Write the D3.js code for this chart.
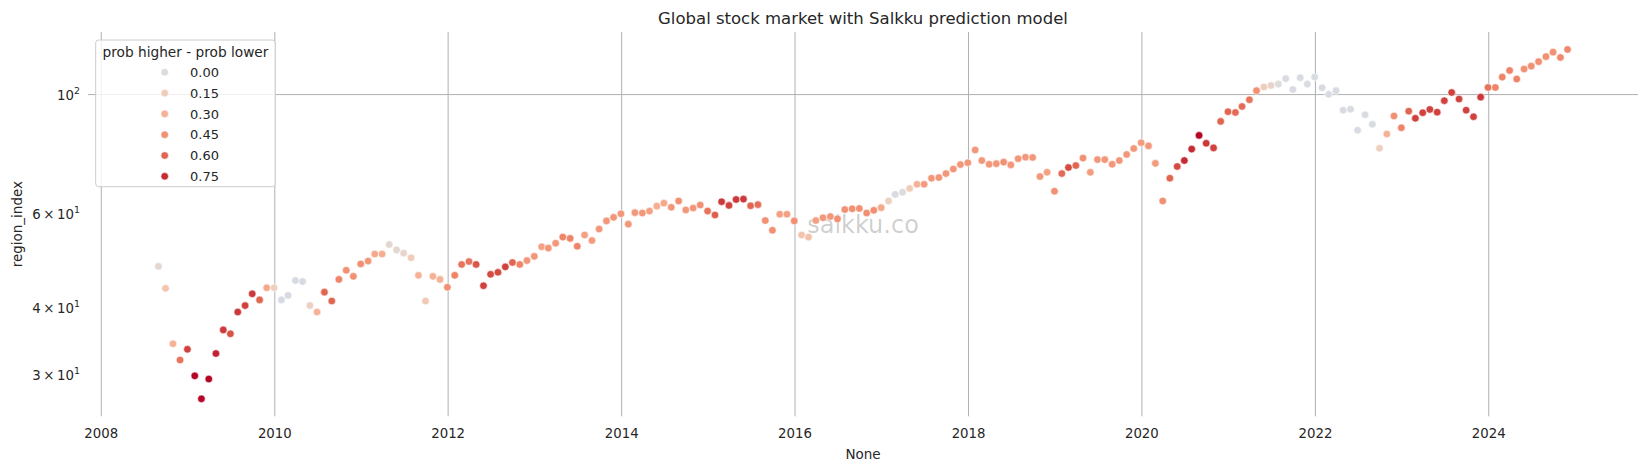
<!DOCTYPE html>
<html><head><meta charset="utf-8">
<script src="https://cdn.jsdelivr.net/npm/d3@7"></script>
<style>
body{margin:0;background:#fff;}
svg{display:block;font-family:"DejaVu Sans",sans-serif;}
</style>
</head><body>
<svg id="chart" width="1648" height="470"></svg>
<script>
// ---------- data ----------
const months = [
 "2008-08","2008-09","2008-10","2008-11","2008-12",
 "2009-01","2009-02","2009-03","2009-04","2009-05","2009-06","2009-07","2009-08","2009-09","2009-10","2009-11","2009-12",
 "2010-01","2010-02","2010-03","2010-04","2010-05","2010-06","2010-07","2010-08","2010-09","2010-10","2010-11","2010-12",
 "2011-01","2011-02","2011-03","2011-04","2011-05","2011-06","2011-07","2011-08","2011-09","2011-10","2011-11","2011-12",
 "2012-01","2012-02","2012-03","2012-04","2012-05","2012-06","2012-07","2012-08","2012-09","2012-10","2012-11","2012-12",
 "2013-01","2013-02","2013-03","2013-04","2013-05","2013-06","2013-07","2013-08","2013-09","2013-10","2013-11","2013-12",
 "2014-01","2014-02","2014-03","2014-04","2014-05","2014-06","2014-07","2014-08","2014-09","2014-10","2014-11","2014-12",
 "2015-01","2015-02","2015-03","2015-04","2015-05","2015-06","2015-07","2015-08","2015-09","2015-10","2015-11","2015-12",
 "2016-01","2016-02","2016-03","2016-04","2016-05","2016-06","2016-07","2016-08","2016-09","2016-10","2016-11","2016-12",
 "2017-01","2017-02","2017-03","2017-04","2017-05","2017-06","2017-07","2017-08","2017-09","2017-10","2017-11","2017-12",
 "2018-01","2018-02","2018-03","2018-04","2018-05","2018-06","2018-07","2018-08","2018-09","2018-10","2018-11","2018-12",
 "2019-01","2019-02","2019-03","2019-04","2019-05","2019-06","2019-07","2019-08","2019-09","2019-10","2019-11","2019-12",
 "2020-01","2020-02","2020-03","2020-04","2020-05","2020-06","2020-07","2020-08","2020-09","2020-10","2020-11","2020-12",
 "2021-01","2021-02","2021-03","2021-04","2021-05","2021-06","2021-07","2021-08","2021-09","2021-10","2021-11","2021-12",
 "2022-01","2022-02","2022-03","2022-04","2022-05","2022-06","2022-07","2022-08","2022-09","2022-10","2022-11","2022-12",
 "2023-01","2023-02","2023-03","2023-04","2023-05","2023-06","2023-07","2023-08","2023-09","2023-10","2023-11","2023-12",
 "2024-01","2024-02","2024-03","2024-04","2024-05","2024-06","2024-07","2024-08","2024-09","2024-10","2024-11"
];
const regionIndex = [
 47.6,43.3,34.1,31.8,33.3,
 29.7,26.9,29.3,32.7,36.2,35.6,39.1,40.2,42.3,41.2,43.4,43.4,
 41.2,42.0,44.8,44.6,40.2,39.1,42.6,41.0,45.0,46.8,45.6,48.1,
 48.7,50.2,50.2,52.3,51.1,50.4,49.4,45.8,41.0,45.6,45.0,43.5,
 45.8,48.0,48.6,48.0,43.8,46.0,46.4,47.5,48.4,48.0,48.8,49.7,
 51.8,51.5,52.6,54.0,53.7,51.9,54.5,53.2,55.9,57.9,58.8,59.7,
 57.1,60.0,59.9,60.4,61.7,62.5,61.4,63.1,60.7,61.2,62.0,60.4,
 59.4,62.9,61.9,63.5,63.6,61.8,62.1,58.0,55.6,59.6,59.6,57.9,
 54.5,54.0,58.0,58.7,59.0,58.4,60.8,61.0,61.1,59.9,60.6,61.3,
 63.1,64.9,65.5,66.6,67.8,67.8,69.6,69.8,71.0,72.4,73.8,74.4,
 78.6,75.1,73.9,74.1,74.6,73.7,75.7,76.2,76.1,70.1,71.4,65.8,
 71.0,72.9,73.5,75.9,71.4,75.4,75.4,73.9,75.1,77.1,79.1,81.1,
 80.0,74.2,63.1,69.6,73.2,75.1,78.9,83.7,80.9,79.3,88.9,92.7,
 92.4,94.8,97.6,101.5,103.1,103.8,104.4,106.9,102.0,107.3,104.4,107.6,
 102.8,99.9,101.5,93.3,93.7,85.6,91.5,87.8,79.2,84.2,91.0,86.5,
 92.9,90.1,92.3,93.6,92.5,97.2,100.7,97.9,93.3,90.7,98.7,102.9,
 102.9,107.6,110.7,106.7,111.4,112.8,115.0,117.5,119.8,117.1,121.2
];
const probDiff = [
 0.05,0.20,0.30,0.55,0.70,
 0.83,0.83,0.83,0.77,0.72,0.66,0.72,0.70,0.72,0.60,0.35,0.12,
 -0.04,-0.04,-0.04,-0.04,0.12,0.30,0.60,0.60,0.50,0.45,0.45,0.45,
 0.42,0.35,0.33,0.05,0.05,0.07,0.15,0.30,0.18,0.30,0.30,0.45,
 0.50,0.55,0.55,0.65,0.70,0.68,0.68,0.70,0.60,0.50,0.42,0.42,
 0.38,0.42,0.42,0.50,0.50,0.50,0.38,0.40,0.42,0.42,0.42,0.42,
 0.42,0.42,0.42,0.38,0.33,0.35,0.42,0.45,0.42,0.42,0.45,0.55,
 0.62,0.72,0.70,0.72,0.72,0.60,0.57,0.45,0.45,0.38,0.38,0.45,
 0.20,0.22,0.38,0.42,0.42,0.45,0.45,0.45,0.45,0.45,0.45,0.35,
 0.12,-0.03,0.00,0.15,0.30,0.40,0.42,0.42,0.42,0.42,0.42,0.42,
 0.42,0.42,0.42,0.42,0.45,0.42,0.42,0.42,0.42,0.42,0.38,0.45,
 0.58,0.68,0.60,0.45,0.40,0.42,0.42,0.42,0.42,0.42,0.42,0.40,
 0.42,0.40,0.45,0.60,0.68,0.75,0.75,0.83,0.72,0.70,0.60,0.60,
 0.58,0.58,0.55,0.45,0.15,0.08,0.00,-0.03,-0.03,-0.03,-0.03,-0.03,
 -0.03,-0.03,-0.03,-0.03,-0.03,-0.03,-0.03,-0.03,0.12,0.30,0.45,0.50,
 0.60,0.70,0.70,0.70,0.70,0.70,0.70,0.70,0.70,0.70,0.72,0.55,
 0.50,0.50,0.50,0.50,0.45,0.45,0.45,0.45,0.45,0.48,0.48
];
const legendValues = [0.00, 0.15, 0.30, 0.45, 0.60, 0.75];
const yTickValues = [30, 40, 60, 100];
const yTickMantissa = ["3", "4", "6", ""];
const yTickExponent = ["1", "1", "1", "2"];
const coolwarm = ['#3b4cc0','#5977e3','#7b9ff9','#9ebeff','#c0d4f5','#dddcdc','#f2cbb7','#f7ac8e','#ee8468','#d65244','#b40426'];
const hueLimit = 0.833;

// ---------- layout ----------
const L = 88, R = 1638, T = 32, B = 416.3;
const ink = "#262626";
const svg = d3.select("#chart");

const parseMonth = d3.timeParse("%Y-%m");
const data = months.map((m, i) => ({
  date: d3.timeDay.offset(d3.timeMonth.offset(parseMonth(m), 1), -1),
  v: regionIndex[i], p: probDiff[i]
}));

const dExt = d3.extent(data, d => d.date);
const span = dExt[1] - dExt[0];
const x = d3.scaleTime()
  .domain([new Date(+dExt[0] - span * 0.05), new Date(+dExt[1] + span * 0.05)])
  .range([L, R]);
const vExt = d3.extent(data, d => d.v);
const lspan = Math.log10(vExt[1]) - Math.log10(vExt[0]);
const y = d3.scaleLog()
  .domain([vExt[0] / Math.pow(10, lspan * 0.05), vExt[1] * Math.pow(10, lspan * 0.05)])
  .range([B, T]);

const cw = d3.piecewise(d3.interpolateRgb, coolwarm);
const color = v => cw((v + hueLimit) / (2 * hueLimit));

// ---------- grid + axes ----------
const xAxis = d3.axisBottom(x)
  .ticks(d3.timeYear.every(2))
  .tickFormat(d3.timeFormat("%Y"))
  .tickSize(-(B - T))
  .tickPadding(12);
const gx = svg.append("g").attr("transform", `translate(0,${B})`).call(xAxis);
gx.select(".domain").remove();
gx.selectAll(".tick line").attr("stroke", "#b0b0b0").attr("stroke-width", 1);
gx.selectAll(".tick text").attr("fill", ink).attr("font-size", 13.3)
  .attr("font-family", "DejaVu Sans");

// horizontal major gridline at 10^2
const gyGrid = svg.append("g").attr("transform", `translate(${L},0)`)
  .call(d3.axisLeft(y).tickValues([100]).tickSize(-(R - L)).tickFormat(""));
gyGrid.select(".domain").remove();
gyGrid.selectAll(".tick line").attr("stroke", "#b0b0b0").attr("stroke-width", 1);

const gy = svg.append("g").attr("transform", `translate(${L},0)`)
  .call(d3.axisLeft(y).tickValues(yTickValues).tickSize(0).tickPadding(8).tickFormat(""));
gy.select(".domain").remove();
gy.selectAll(".tick text").each(function(d) {
  const t = d3.select(this).attr("fill", ink).attr("font-size", 13.3)
    .attr("font-family", "DejaVu Sans").attr("dy", "0.42em");
  const k = yTickValues.indexOf(d);
  if (yTickMantissa[k]) t.append("tspan").text(yTickMantissa[k] + "\u2009\u00d7\u2009");
  t.append("tspan").text("10");
  t.append("tspan").attr("font-size", 9.4).attr("dy", "-0.62em").text(yTickExponent[k]);
});

// watermark
svg.append("text")
  .attr("x", (L + R) / 2).attr("y", (T + B) / 2 + 8.5)
  .attr("text-anchor", "middle").attr("font-size", 24)
  .attr("fill", "#000").attr("fill-opacity", 0.2)
  .text("salkku.co");

// ---------- points ----------
svg.append("g").selectAll("circle").data(data).join("circle")
  .attr("cx", d => x(d.date)).attr("cy", d => y(d.v))
  .attr("r", 3.8)
  .attr("fill", d => color(d.p))
  .attr("stroke", "#fff").attr("stroke-width", 0.6);

// ---------- labels ----------
svg.append("text").attr("x", (L + R) / 2).attr("y", 24.3)
  .attr("text-anchor", "middle").attr("font-size", 16.5).attr("fill", ink)
  .text("Global stock market with Salkku prediction model");
svg.append("text").attr("x", (L + R) / 2).attr("y", 458.5)
  .attr("text-anchor", "middle").attr("font-size", 13.5).attr("fill", ink)
  .text("None");
svg.append("text").attr("transform", `translate(22,${(T + B) / 2}) rotate(-90)`)
  .attr("text-anchor", "middle").attr("font-size", 13.5).attr("fill", ink)
  .text("region_index");

// ---------- legend ----------
const lg = svg.append("g");
lg.append("rect").attr("x", 95.7).attr("y", 40).attr("width", 179.6).attr("height", 146.7)
  .attr("rx", 3).attr("fill", "#fff").attr("fill-opacity", 0.8)
  .attr("stroke", "#cccccc").attr("stroke-width", 1);
lg.append("text").attr("x", 185.5).attr("y", 56.6).attr("text-anchor", "middle")
  .attr("font-size", 13.7).attr("fill", ink).text("prob higher - prob lower");
legendValues.forEach((v, i) => {
  const cy = 72.3 + i * 20.8;
  lg.append("circle").attr("cx", 164.7).attr("cy", cy).attr("r", 3.8)
    .attr("fill", color(v)).attr("stroke", "#fff").attr("stroke-width", 0.6);
  lg.append("text").attr("x", 190).attr("y", cy + 4.7).attr("font-size", 13)
    .attr("fill", ink).text(d3.format(".2f")(v));
});
</script>
</body></html>
